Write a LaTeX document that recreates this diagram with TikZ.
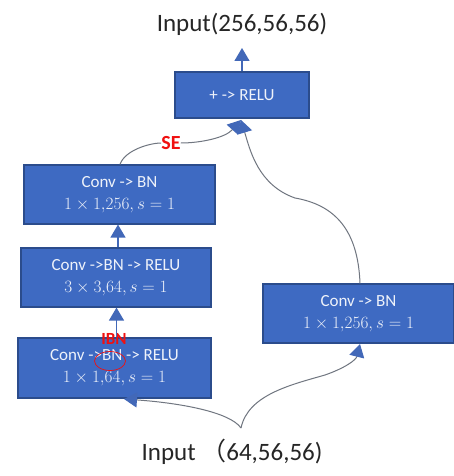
\documentclass[tikz,border=0pt]{standalone}
\usepackage{fontspec}
\setmainfont{Carlito}
\newfontfamily\cjkfont{Noto Sans CJK SC}
\usetikzlibrary{arrows.meta,shapes.geometric}
\definecolor{boxblue}{HTML}{3E6AC2}
\definecolor{boxedge}{HTML}{2B4C8C}
\definecolor{txtwhite}{HTML}{EEF2FA}
\definecolor{linegray}{HTML}{707680}
\definecolor{tipblue}{HTML}{4268B8}
\definecolor{redlab}{HTML}{F01010}
\begin{document}
\begin{tikzpicture}[x=1pt,y=-1pt,
  blk/.style={draw=boxedge, fill=boxblue, line width=1.2pt, text=txtwhite,
    font=\fontsize{17}{22}\selectfont, align=center, inner sep=0pt},
  tipped/.style={-{Triangle[width=15pt,length=13pt,fill=tipblue,color=tipblue]}},
  stem/.style={draw=tipblue, line width=1.3pt, tipped},
  curve/.style={draw=linegray, line width=1pt, tipped},
  redtext/.style={text=redlab, font=\fontsize{20}{22}\selectfont\bfseries, inner sep=0pt}
]
\useasboundingbox (0,0) rectangle (454,476);
\fill[white] (0,0) rectangle (454,476);

% title and input
\node[font=\fontsize{25}{28}\selectfont, text=black!85, inner sep=0pt] (title) at (242,24) {Input(256,56,56)};
\node[font=\fontsize{25}{28}\selectfont, text=black!85, inner sep=0pt] (input) at (232,452) {Input {\cjkfont （}64,56,56)};

% boxes
\node[blk, minimum width=134pt, minimum height=46pt] (top) at (242,95) {+ -> RELU};
\node[blk, minimum width=191pt, minimum height=59pt] (b2) at (119.5,194.5) {Conv -> BN\\$1\times1{,}256{,}\,s=1$};
\node[blk, minimum width=190pt, minimum height=59pt] (b3) at (116,277.5) {Conv ->BN -> RELU\\$3\times3{,}64{,}\,s=1$};
\node[blk, minimum width=193pt, minimum height=60pt] (b4) at (114.5,368) {Conv ->BN -> RELU\\$1\times1{,}64{,}\,s=1$};
\node[blk, minimum width=191pt, minimum height=59pt] (rt) at (358.5,313.5) {Conv -> BN\\$1\times1{,}256{,}\,s=1$};

% labels
\node[redtext] (se) at (171,143) {SE};
\node[redtext, font=\fontsize{17}{19}\selectfont\bfseries] (ibn) at (114,339) {IBN};
\node[draw=redlab, line width=0.7pt, ellipse, minimum width=31pt, minimum height=19pt, inner sep=0pt] (ring) at (110,361) {};

% straight connectors
\coordinate (tt) at (242,48);
\draw[stem] (top.north) -- (tt);
\draw[stem] ([xshift=2pt]b3.north) -- ([xshift=2pt]b3.north |- b2.south);
\draw[stem] ([xshift=2pt]b4.north) -- ([xshift=2pt]b4.north |- b3.south);

% curves
\coordinate (apex) at (241,428);
\coordinate (b4in) at (124,399);
\coordinate (rtin) at (360,344);
\coordinate (topin) at (241,120);
\draw[curve] (apex) .. controls (230,412) and (180,403) .. (b4in);
\draw[curve] (apex) .. controls (248,395) and (290,385) .. (325,375) .. controls (345,368) and (356,360) .. (rtin);
\draw[draw=linegray, line width=1pt] (b2.north -| 120,0) .. controls (125,150) and (150,143) .. (se.west);
\draw[curve] (se.east) .. controls (200,143) and (225,138) .. (topin);
\draw[curve] (rt.north -| 360,0) .. controls (358,230) and (335,205) .. (295,198) .. controls (258,185) and (250,150) .. (topin);
\end{tikzpicture}
\end{document}
